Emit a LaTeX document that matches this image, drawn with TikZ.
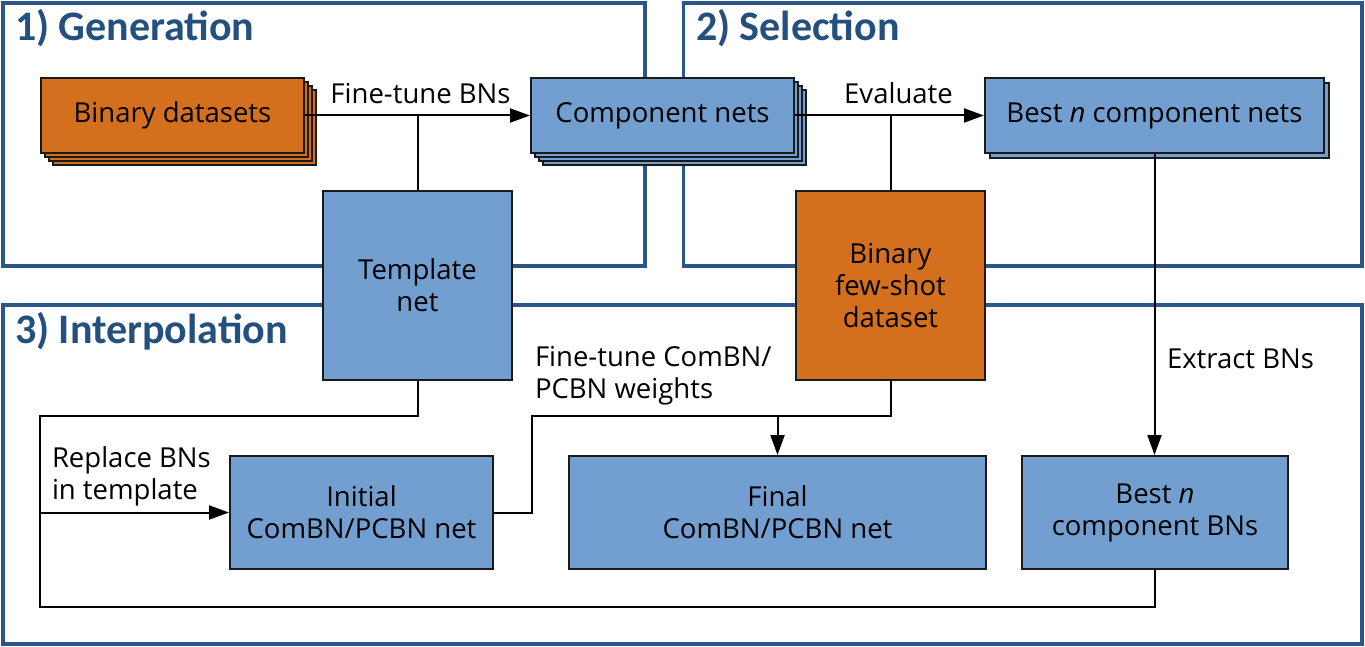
\documentclass[tikz,border=0pt]{standalone}
\usepackage{fontspec}
\setmainfont{Open Sans}
\newfontfamily\titlefont{Carlito}
\usetikzlibrary{arrows.meta,shadows}
\definecolor{netblue}{HTML}{729FCF}
\definecolor{dataorange}{HTML}{D4701D}
\definecolor{stageblue}{HTML}{2C5687}
\definecolor{titleblue}{HTML}{24507F}
\definecolor{boxline}{HTML}{1A1A1A}
\tikzset{
  stage/.style={draw=stageblue, line width=3.5pt},
  stagetitle/.style={anchor=base west, inner sep=0pt, text=titleblue,
    font=\titlefont\bfseries\fontsize{42}{48}\selectfont},
  box/.style={draw=boxline, line width=2pt, align=center, inner sep=0pt},
  netbox/.style={box, fill=netblue},
  databox/.style={box, fill=dataorange},
  stack/.style={copy shadow={shadow xshift=12pt, shadow yshift=-12pt},
    copy shadow={shadow xshift=8pt, shadow yshift=-8pt},
    copy shadow={shadow xshift=4pt, shadow yshift=-4pt}},
  pair/.style={copy shadow={shadow xshift=5pt, shadow yshift=-5pt}},
  lbl/.style={anchor=base west, align=left, inner sep=0pt},
  arr/.style={-{Triangle[length=20pt,width=14pt]}}
}
\begin{document}
\begin{tikzpicture}[x=1pt, y=-1pt, line width=2pt, font=\fontsize{27.5}{32}\selectfont]
  \useasboundingbox (0,0) rectangle (1365,647);
  % the three stages
  \draw[stage] (3,3) rectangle (645,266);
  \draw[stage] (683.5,3) rectangle (1362,266);
  \draw[stage] (3,305) rectangle (1362,644);
  \node[stagetitle] (gentitle) at (14,41) {1) Generation};
  \node[stagetitle] (seltitle) at (695,41) {2) Selection};
  \node[stagetitle] (inttitle) at (14,343) {3) Interpolation};

  \node[databox, stack, minimum width=263pt, minimum height=75pt] (data) at (172.5,115.5) {Binary datasets};
  \node[netbox, stack, minimum width=263pt, minimum height=75pt] (comp) at (662.5,115.5) {Component nets};
  \node[netbox, pair, minimum width=339pt, minimum height=75pt] (best) at (1154.5,115.5) {Best \textit{n} component nets};
  \node[netbox, minimum width=189pt, minimum height=189pt] (templ) at (417.5,285.5) {Template\\net};
  \node[databox, minimum width=189pt, minimum height=189pt] (fewshot) at (890.5,285.5) {Binary\\few-shot\\dataset};
  \node[netbox, minimum width=263pt, minimum height=113pt] (init) at (361.5,512.5) {Initial\\ComBN/PCBN net};
  \node[netbox, minimum width=417pt, minimum height=113pt] (final) at (777.5,512.5) {Final\\ComBN/PCBN net};
  \node[netbox, minimum width=266pt, minimum height=113pt] (bestbn) at (1155,512.5) {Best \textit{n}\\component BNs};

  \coordinate (lt) at (40,416);
  \coordinate (lb) at (40,607);
  \coordinate (ft) at (532,416);

  \draw[arr] (data.east) -- (comp.west);
  \draw (templ.north) -- (templ.north |- data.east);
  \draw[arr] (comp.east) -- (best.west);
  \draw (fewshot.north) -- (fewshot.north |- comp.east);
  \draw[arr] (best.south) -- (best.south |- bestbn.north);
  \draw (templ.south) |- (lt) -- (lb) -| (bestbn.south);
  \draw[arr] (lt |- init.west) -- (init.west);
  \draw (init.east) -| (ft) -| (fewshot.south);
  \draw[arr] (final.north |- ft) -- (final.north);

  \node[anchor=base, inner sep=0pt] (finetunelbl) at (420.5,104) {Fine-tune BNs};
  \node[anchor=base, inner sep=0pt] (evallbl) at (898.5,104) {Evaluate};
  \node[lbl] (extractlbl) at (1166,368) {Extract BNs};
  \node[lbl] (replacelbl) at (51,499) {Replace BNs\\in template};
  \node[lbl] (weightslbl) at (534,398) {Fine-tune ComBN/\\PCBN weights};
\end{tikzpicture}
\end{document}
